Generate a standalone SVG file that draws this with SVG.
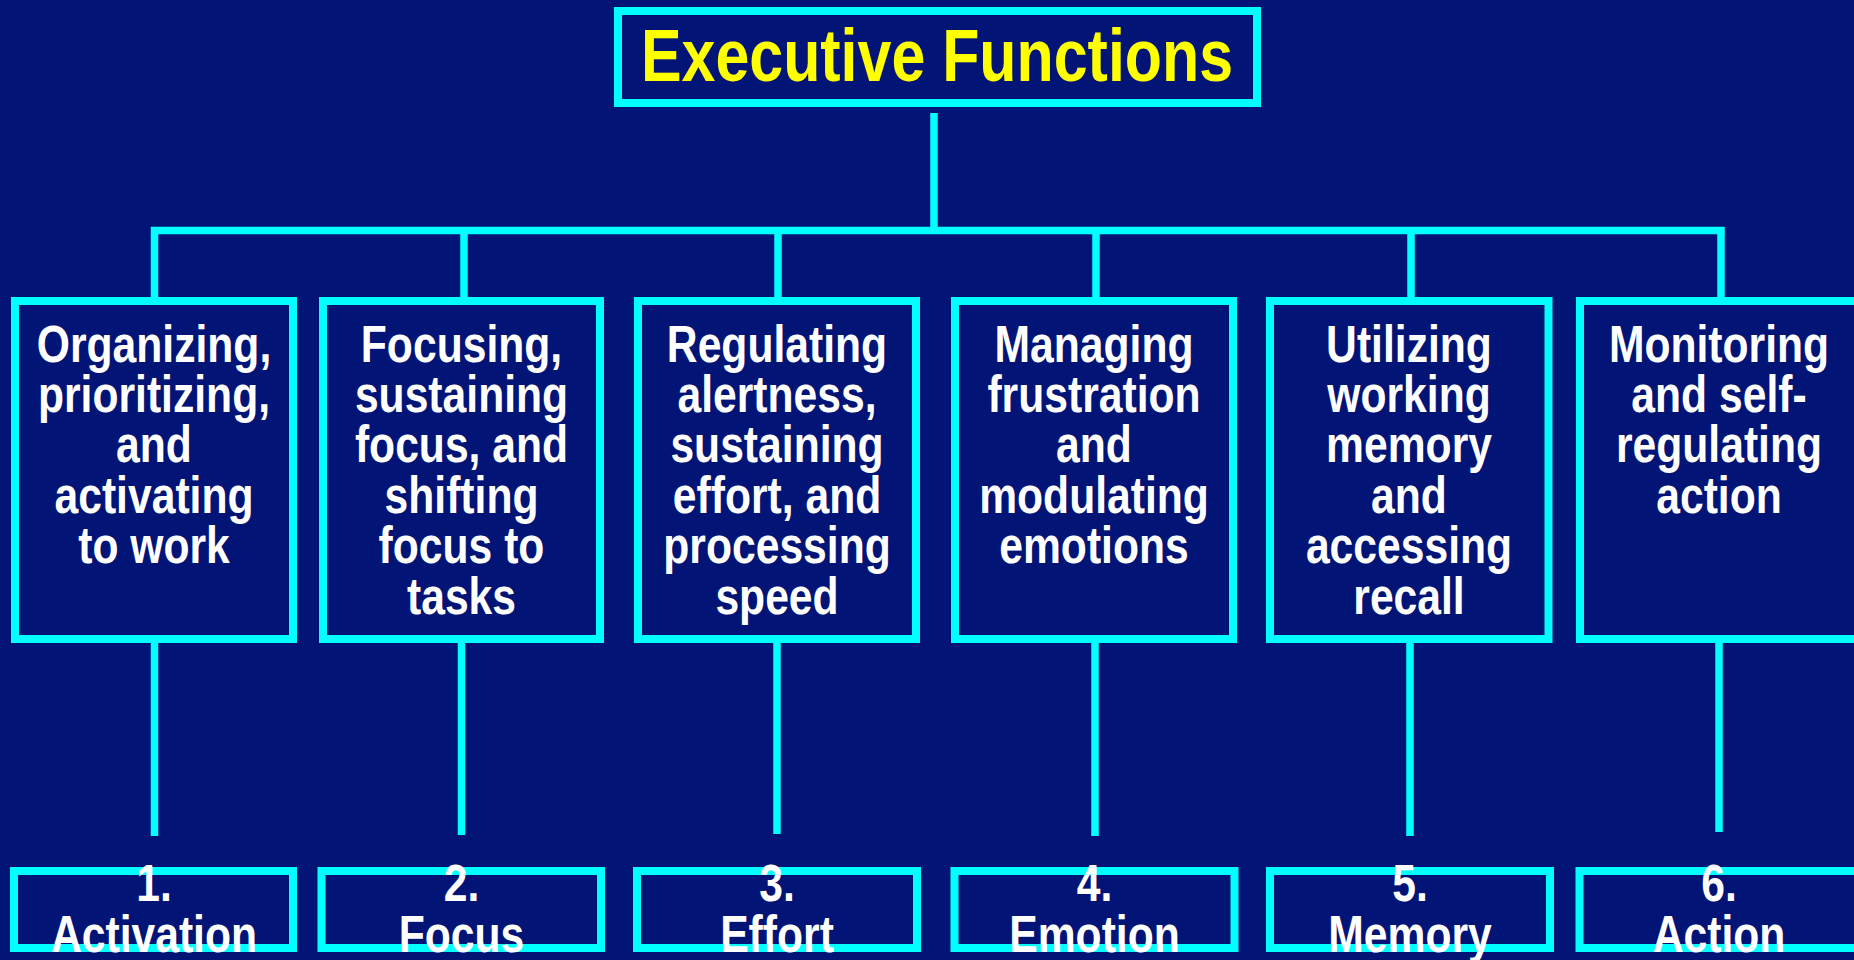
<svg xmlns="http://www.w3.org/2000/svg" width="1854" height="960" viewBox="0 0 1854 960">
<style>
.box{fill:none;stroke:#00FFFF;stroke-width:8}
.ln{fill:none;stroke:#00FFFF;stroke-width:7.5;stroke-linecap:butt;stroke-linejoin:miter}
.t{font-family:"Liberation Sans",Arial,sans-serif;font-weight:bold;font-size:52px;fill:#FFFFFF;text-anchor:middle}
.title{font-family:"Liberation Sans",Arial,sans-serif;font-weight:bold;font-size:75px;fill:#FFFF00;text-anchor:middle}
</style>
<rect x="0" y="0" width="1854" height="960" fill="#021476"/>
<g id="connectors">
<line class="ln" x1="934" y1="113" x2="934" y2="230.5"/>
<path class="ln" d="M154.5,297 V230.5 H1721 V297"/>
<line class="ln" x1="464" y1="230.5" x2="464" y2="297"/>
<line class="ln" x1="778" y1="230.5" x2="778" y2="297"/>
<line class="ln" x1="1096" y1="230.5" x2="1096" y2="297"/>
<line class="ln" x1="1411" y1="230.5" x2="1411" y2="297"/>
<line class="ln" x1="154.5" y1="643" x2="154.5" y2="836"/>
<line class="ln" x1="461.5" y1="643" x2="461.5" y2="835"/>
<line class="ln" x1="777" y1="643" x2="777" y2="834"/>
<line class="ln" x1="1095" y1="643" x2="1095" y2="836"/>
<line class="ln" x1="1410" y1="643" x2="1410" y2="836"/>
<line class="ln" x1="1719" y1="643" x2="1719" y2="832"/>
</g>
<g id="title">
<rect class="box" x="618" y="11" width="639" height="92"/>
<g transform="translate(937 0) scale(0.812 1)"><text class="title" x="0" y="81">Executive Functions</text></g>
</g>
<g id="f1">
<rect class="box" x="15" y="301" width="278" height="338"/>
<g transform="translate(154 0) scale(0.82 1)"><text class="t" x="0" y="361.7"><tspan x="0">Organizing,</tspan><tspan x="0" dy="50.4">prioritizing,</tspan><tspan x="0" dy="50.4">and</tspan><tspan x="0" dy="50.4">activating</tspan><tspan x="0" dy="50.4">to work</tspan></text></g>
</g>
<g id="f2">
<rect class="box" x="323" y="301" width="277" height="338"/>
<g transform="translate(461.5 0) scale(0.82 1)"><text class="t" x="0" y="361.7"><tspan x="0">Focusing,</tspan><tspan x="0" dy="50.4">sustaining</tspan><tspan x="0" dy="50.4">focus, and</tspan><tspan x="0" dy="50.4">shifting</tspan><tspan x="0" dy="50.4">focus to</tspan><tspan x="0" dy="50.4">tasks</tspan></text></g>
</g>
<g id="f3">
<rect class="box" x="638" y="301" width="278" height="338"/>
<g transform="translate(777 0) scale(0.82 1)"><text class="t" x="0" y="361.7"><tspan x="0">Regulating</tspan><tspan x="0" dy="50.4">alertness,</tspan><tspan x="0" dy="50.4">sustaining</tspan><tspan x="0" dy="50.4">effort, and</tspan><tspan x="0" dy="50.4">processing</tspan><tspan x="0" dy="50.4">speed</tspan></text></g>
</g>
<g id="f4">
<rect class="box" x="955" y="301" width="278" height="338"/>
<g transform="translate(1094 0) scale(0.82 1)"><text class="t" x="0" y="361.7"><tspan x="0">Managing</tspan><tspan x="0" dy="50.4">frustration</tspan><tspan x="0" dy="50.4">and</tspan><tspan x="0" dy="50.4">modulating</tspan><tspan x="0" dy="50.4">emotions</tspan></text></g>
</g>
<g id="f5">
<rect class="box" x="1270" y="301" width="278.5" height="338"/>
<g transform="translate(1409 0) scale(0.82 1)"><text class="t" x="0" y="361.7"><tspan x="0">Utilizing</tspan><tspan x="0" dy="50.4">working</tspan><tspan x="0" dy="50.4">memory</tspan><tspan x="0" dy="50.4">and</tspan><tspan x="0" dy="50.4">accessing</tspan><tspan x="0" dy="50.4">recall</tspan></text></g>
</g>
<g id="f6">
<rect class="box" x="1580" y="301" width="278" height="338"/>
<g transform="translate(1719 0) scale(0.82 1)"><text class="t" x="0" y="361.7"><tspan x="0">Monitoring</tspan><tspan x="0" dy="50.4">and self-</tspan><tspan x="0" dy="50.4">regulating</tspan><tspan x="0" dy="50.4">action</tspan></text></g>
</g>
<g id="n1">
<rect class="box" x="14" y="871" width="279" height="77"/>
<g transform="translate(154 0) scale(0.82 1)"><text class="t" x="0" y="901"><tspan x="0">1.</tspan><tspan x="0" dy="50.7">Activation</tspan></text></g>
</g>
<g id="n2">
<rect class="box" x="321.5" y="871" width="279.5" height="77"/>
<g transform="translate(461.5 0) scale(0.82 1)"><text class="t" x="0" y="901"><tspan x="0">2.</tspan><tspan x="0" dy="50.7">Focus</tspan></text></g>
</g>
<g id="n3">
<rect class="box" x="637" y="871" width="280" height="77"/>
<g transform="translate(777 0) scale(0.82 1)"><text class="t" x="0" y="901"><tspan x="0">3.</tspan><tspan x="0" dy="50.7">Effort</tspan></text></g>
</g>
<g id="n4">
<rect class="box" x="954.5" y="871" width="280" height="77"/>
<g transform="translate(1094.5 0) scale(0.82 1)"><text class="t" x="0" y="901"><tspan x="0">4.</tspan><tspan x="0" dy="50.7">Emotion</tspan></text></g>
</g>
<g id="n5">
<rect class="box" x="1270" y="871" width="280" height="77"/>
<g transform="translate(1410 0) scale(0.82 1)"><text class="t" x="0" y="901"><tspan x="0">5.</tspan><tspan x="0" dy="50.7">Memory</tspan></text></g>
</g>
<g id="n6">
<rect class="box" x="1579.5" y="871" width="280" height="77"/>
<g transform="translate(1719 0) scale(0.82 1)"><text class="t" x="0" y="901"><tspan x="0">6.</tspan><tspan x="0" dy="50.7">Action</tspan></text></g>
</g>
</svg>
